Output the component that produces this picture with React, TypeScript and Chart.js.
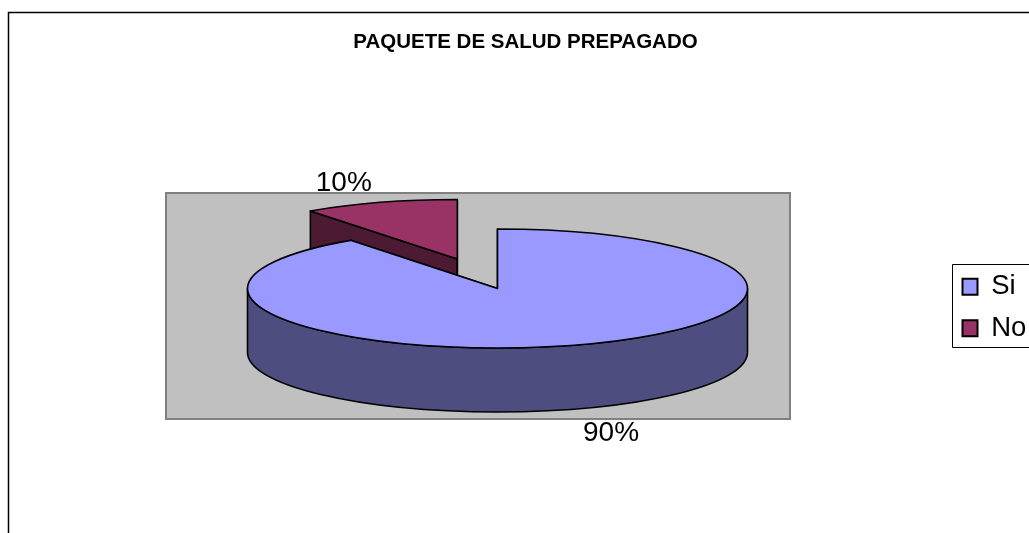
import React, { useEffect, useRef } from "react";
import { Chart, registerables } from "chart.js";

Chart.register(...registerables);

const chartTitle = "PAQUETE DE SALUD PREPAGADO";
const categories = ["Si", "No"];
const shares = [90, 10];
const explode = [0, 0.52];
const topColors = ["#9999FF", "#993366"];
const wallColors = ["#4D4D80", "#4D1A33"];
const labelNudgeY = [-2.5, 7];

const FONT = '"Liberation Sans", Arial, sans-serif';
const CX = 497.5;
const CY = 288.5;
const RADIUS = 250;
const SQUASH = 59.5 / 250;
const DEPTH = 64;
const LABEL_RADIUS = 1.47;

const project = (arc: any) => ({ px: arc.x, py: CY + SQUASH * (arc.y - CY) });

const pie3d = {
  id: "pie3d",
  afterLayout(chart: any) {
    const t = chart.titleBlock;
    if (t) {
      t.left = 0;
      t.right = 1051;
      t.top = 32;
      t.bottom = 53;
    }
    const l = chart.legend;
    if (l) {
      const pad = l.options.labels.padding;
      l.left = 962.5 - pad;
      l.right = l.left + l.width;
      l.top = 273 - pad;
      l.bottom = l.top + 100;
    }
  },
  afterDatasetsUpdate(chart: any) {
    chart.getDatasetMeta(0).data.forEach((arc: any, i: number) => {
      const mid = (arc.startAngle + arc.endAngle) / 2;
      const shift = explode[i] * arc.outerRadius;
      arc.x = CX + Math.cos(mid) * shift;
      arc.y = CY + Math.sin(mid) * shift;
    });
  },
  beforeDraw(chart: any) {
    const ctx = chart.ctx;
    ctx.save();
    ctx.strokeStyle = "#000000";
    ctx.lineWidth = 1.5;
    ctx.beginPath();
    ctx.moveTo(8.5, 560);
    ctx.lineTo(8.5, 12.5);
    ctx.lineTo(1040, 12.5);
    ctx.stroke();
    ctx.restore();
  },
  beforeDatasetsDraw(chart: any) {
    const ctx = chart.ctx;
    ctx.save();
    ctx.fillStyle = "#C0C0C0";
    ctx.strokeStyle = "#808080";
    ctx.lineWidth = 2;
    ctx.fillRect(166, 193, 624, 226);
    ctx.strokeRect(166, 193, 624, 226);
    ctx.strokeStyle = "#000000";
    ctx.lineWidth = 1.6;
    ctx.lineJoin = "round";
    const arcs = chart.getDatasetMeta(0).data;
    for (let i = arcs.length - 1; i >= 0; i--) {
      const arc = arcs[i];
      const { px, py } = project(arc);
      const R = arc.outerRadius;
      ctx.fillStyle = wallColors[i];
      [arc.startAngle, arc.endAngle].forEach((a: number) => {
        const ex = px + R * Math.cos(a);
        const ey = py + R * SQUASH * Math.sin(a);
        ctx.beginPath();
        ctx.moveTo(px, py);
        ctx.lineTo(ex, ey);
        ctx.lineTo(ex, ey + DEPTH);
        ctx.lineTo(px, py + DEPTH);
        ctx.closePath();
        ctx.fill();
        ctx.stroke();
      });
      const a0 = Math.max(arc.startAngle, 0);
      const a1 = Math.min(arc.endAngle, Math.PI);
      if (a1 > a0) {
        ctx.beginPath();
        ctx.ellipse(px, py, R, R * SQUASH, 0, a0, a1);
        ctx.ellipse(px, py + DEPTH, R, R * SQUASH, 0, a1, a0, true);
        ctx.closePath();
        ctx.fill();
        ctx.stroke();
      }
    }
    ctx.restore();
    ctx.save();
    ctx.translate(0, CY);
    ctx.scale(1, SQUASH);
    ctx.translate(0, -CY);
  },
  afterDatasetsDraw(chart: any) {
    const ctx = chart.ctx;
    ctx.restore();
    ctx.save();
    ctx.strokeStyle = "#000000";
    ctx.lineWidth = 1.6;
    ctx.lineJoin = "round";
    chart.getDatasetMeta(0).data.forEach((arc: any) => {
      const { px, py } = project(arc);
      const R = arc.outerRadius;
      ctx.beginPath();
      ctx.moveTo(px, py);
      ctx.ellipse(px, py, R, R * SQUASH, 0, arc.startAngle, arc.endAngle);
      ctx.closePath();
      ctx.stroke();
    });
    ctx.restore();
  },
  afterDraw(chart: any) {
    const ctx = chart.ctx;
    ctx.save();
    ctx.fillStyle = "#000000";
    ctx.font = `28px ${FONT}`;
    ctx.textAlign = "center";
    ctx.textBaseline = "middle";
    chart.getDatasetMeta(0).data.forEach((arc: any, i: number) => {
      const mid = (arc.startAngle + arc.endAngle) / 2;
      const shift = explode[i] * arc.outerRadius + LABEL_RADIUS * arc.outerRadius;
      const x = CX + Math.cos(mid) * shift;
      const y =
        CY +
        SQUASH * Math.sin(mid) * shift +
        (Math.sin(mid) > 0 ? DEPTH : 0) +
        labelNudgeY[i];
      ctx.fillText(`${shares[i]}%`, x, y);
    });
    ctx.strokeStyle = "#000000";
    ctx.lineWidth = 1;
    ctx.beginPath();
    ctx.moveTo(1040, 264.5);
    ctx.lineTo(952.5, 264.5);
    ctx.lineTo(952.5, 347.5);
    ctx.lineTo(1040, 347.5);
    ctx.stroke();
    ctx.restore();
  },
};

export default function App() {
  const ref = useRef<HTMLCanvasElement | null>(null);
  useEffect(() => {
    const chart = new Chart(ref.current as HTMLCanvasElement, {
      type: "pie",
      data: {
        labels: categories,
        datasets: [
          {
            data: shares,
            backgroundColor: topColors,
            borderWidth: 0,
            radius: RADIUS,
            clip: false,
          } as any,
        ],
      },
      options: {
        responsive: false,
        animation: false,
        plugins: {
          tooltip: { enabled: false },
          title: {
            display: true,
            text: chartTitle,
            color: "#000000",
            padding: 0,
            font: { family: FONT, size: 20.5, weight: "bold", lineHeight: 1 },
          },
          legend: {
            display: true,
            position: "right",
            align: "start",
            labels: {
              boxWidth: 15,
              boxHeight: 16,
              padding: 14,
              color: "#000000",
              font: { family: FONT, size: 27.5 },
              generateLabels: (c: any) =>
                (Chart as any).overrides.doughnut.plugins.legend.labels
                  .generateLabels(c)
                  .map((it: any) => ({ ...it, lineWidth: 2, strokeStyle: "#000000" })),
            },
          },
        },
      },
      plugins: [pie3d],
    } as any);
    return () => chart.destroy();
  }, []);
  return (
    <div style={{ position: "fixed", left: 0, top: 0, width: 1029, height: 533, background: "#FFFFFF", overflow: "hidden" }}>
      <canvas ref={ref} width={1029} height={533} style={{ display: "block" }} />
    </div>
  );
}
